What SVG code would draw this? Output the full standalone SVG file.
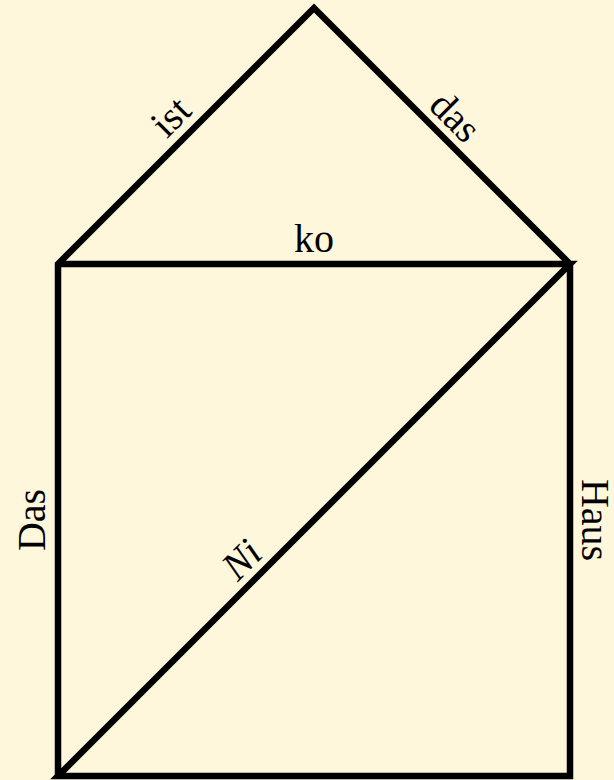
<svg xmlns="http://www.w3.org/2000/svg" width="614" height="780" viewBox="0 0 614 780">
  <style>
    .edge { fill: none; stroke: #000; stroke-width: 6.5; stroke-linejoin: miter; stroke-miterlimit: 10; stroke-linecap: butt; }
    .lbl { font-family: "Liberation Serif", "DejaVu Serif", serif; font-size: 40px; fill: #000; text-anchor: middle; }
    .it { font-style: italic; }
  </style>
  <rect width="614" height="780" fill="#FFF7DC"/>
  <g id="connectors">
    <path class="edge" d="M58,776 L58,264 L314,8 L570,264 L570,776 L58,776 L570,264 L58,264"/>
  </g>
  <g id="labels">
    <g id="label-das-left"><text class="lbl" transform="translate(45,520) rotate(-90)">Das</text></g>
    <g id="label-ist"><text class="lbl" transform="translate(180,126) rotate(-45)">ist</text></g>
    <g id="label-das-roof"><text class="lbl" transform="translate(446,126) rotate(45)">das</text></g>
    <g id="label-haus"><text class="lbl" transform="translate(582,520) rotate(90)">Haus</text></g>
    <g id="label-ni"><text class="lbl it" transform="translate(251,569) rotate(-45)">Ni</text></g>
    <g id="label-ko"><text class="lbl" x="314" y="252">ko</text></g>
  </g>
</svg>
